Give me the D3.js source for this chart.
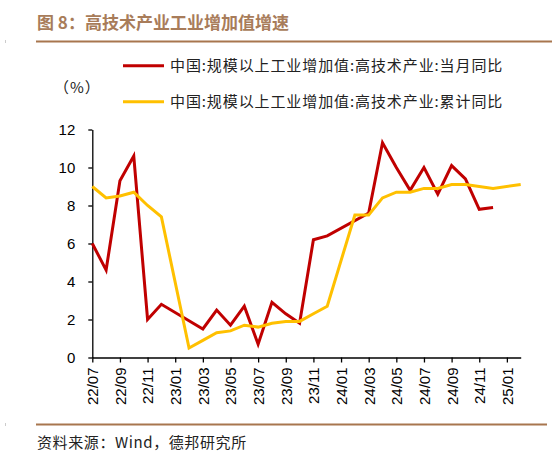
<!DOCTYPE html>
<html>
<head>
<meta charset="utf-8">
<script src="https://cdn.jsdelivr.net/npm/d3@7"></script>
<style>
  html, body { margin: 0; padding: 0; background: #fff; }
  svg { display: block; }
</style>
</head>
<body>
<div id="chart"></div>
<script>
// months on the x axis, 22/07 .. 25/02
const months = [
  "22/07", "22/08", "22/09", "22/10", "22/11", "22/12",
  "23/01", "23/02", "23/03", "23/04", "23/05", "23/06",
  "23/07", "23/08", "23/09", "23/10", "23/11", "23/12",
  "24/01", "24/02", "24/03", "24/04", "24/05", "24/06",
  "24/07", "24/08", "24/09", "24/10", "24/11", "24/12",
  "25/01", "25/02"
];

// 当月同比 (null = no release that month)
const monthlyYoY = [
  6.0, 4.6, 9.3, 10.6, 2.0, 2.8,
  null, null, 1.5, 2.5, 1.7, 2.7,
  0.7, 2.9, 2.3, 1.8, 6.2, 6.4,
  null, null, 7.6, 11.3, 10.0, 8.8,
  10.0, 8.6, 10.1, 9.4, 7.8, 7.9,
  null, null
];

// 累计同比
const cumulativeYoY = [
  9.0, 8.4, 8.5, 8.7, 8.0, 7.4,
  null, 0.5, 0.9, 1.3, 1.4, 1.7,
  1.6, 1.8, 1.9, 1.9, 2.3, 2.7,
  null, 7.5, 7.5, 8.4, 8.7, 8.7,
  8.9, 8.9, 9.1, 9.1, 9.0, 8.9,
  null, 9.1
];

const yTicks = [0, 2, 4, 6, 8, 10, 12];
const xTickLabels = months.filter((m, i) => i % 2 === 0);

const seriesNames = [
  "中国:规模以上工业增加值:高技术产业:当月同比",
  "中国:规模以上工业增加值:高技术产业:累计同比"
];
const seriesColors = ["#c00000", "#ffc000"];

const width = 552;
const height = 465;
const brown = "#a8764e";

const svg = d3.select("#chart").append("svg")
  .attr("width", width)
  .attr("height", height);

// title + rules
svg.append("text")
  .attr("x", 37)
  .attr("y", 29)
  .attr("font-family", "'Noto Sans CJK SC', sans-serif")
  .attr("font-size", 17)
  .attr("font-weight", "bold")
  .attr("fill", "#a87c5a")
  .text("图 8：高技术产业工业增加值增速");

svg.append("line")
  .attr("x1", 36).attr("x2", width)
  .attr("y1", 41.5).attr("y2", 41.5)
  .attr("stroke", brown).attr("stroke-width", 2);

svg.append("line")
  .attr("x1", 36).attr("x2", 547)
  .attr("y1", 424.5).attr("y2", 424.5)
  .attr("stroke", brown).attr("stroke-width", 2);

// little marks at the far left
[41.5, 424.5].forEach((y) => {
  svg.append("rect")
    .attr("x", 5).attr("y", y - 1.5)
    .attr("width", 1).attr("height", 3)
    .attr("fill", "#ccc");
});

svg.append("text")
  .attr("x", 37)
  .attr("y", 448)
  .attr("font-family", "'Noto Sans CJK SC', sans-serif")
  .attr("font-size", 15)
  .attr("letter-spacing", 0.6)
  .attr("fill", "#222")
  .text("资料来源：Wind，德邦研究所");

// legend
const legend = svg.append("g");
seriesNames.forEach((name, i) => {
  const y = 65.7 + i * 36;
  legend.append("line")
    .attr("x1", 123).attr("x2", 164)
    .attr("y1", y).attr("y2", y)
    .attr("stroke", seriesColors[i])
    .attr("stroke-width", 3);
  legend.append("text")
    .attr("x", 170)
    .attr("y", y)
    .attr("dy", "0.36em")
    .attr("font-family", "'Noto Sans CJK SC', sans-serif")
    .attr("font-size", 15)
    .attr("letter-spacing", 0.9)
    .attr("fill", "#222")
    .text(name);
});

svg.append("text")
  .attr("x", 54)
  .attr("y", 87.5)
  .attr("dy", "0.36em")
  .attr("font-family", "'Noto Sans CJK SC', sans-serif")
  .attr("font-size", 15)
  .attr("letter-spacing", 1)
  .attr("fill", "#222")
  .text("（%）");

// scales
const x = d3.scalePoint()
  .domain(months)
  .range([92.3, 520.7]);

const y = d3.scaleLinear()
  .domain([0, 12])
  .range([357.5, 129.5]);

// axes
const xAxis = svg.append("g")
  .attr("transform", `translate(0,${y(0)})`)
  .call(d3.axisBottom(x)
    .tickValues(xTickLabels)
    .tickSizeInner(5)
    .tickSizeOuter(0)
    .tickPadding(0));

xAxis.select(".domain").attr("stroke", "#000").attr("stroke-width", 1.3);
xAxis.selectAll(".tick line").attr("stroke", "#000").attr("stroke-width", 1.3);
xAxis.selectAll(".tick text")
  .attr("font-family", "'Liberation Sans', Arial, sans-serif")
  .attr("font-size", 15)
  .attr("fill", "#000")
  .attr("text-anchor", "end")
  .attr("transform", "rotate(-90)")
  .attr("x", -10)
  .attr("y", 0)
  .attr("dy", "0.36em");

const yAxis = svg.append("g")
  .attr("transform", `translate(${x(months[0])},0)`)
  .call(d3.axisLeft(y)
    .tickValues(yTicks)
    .tickSizeInner(4)
    .tickSizeOuter(0)
    .tickPadding(13));

yAxis.select(".domain").attr("stroke", "#000").attr("stroke-width", 1.3);
yAxis.selectAll(".tick line").attr("stroke", "#000").attr("stroke-width", 1.3);
yAxis.selectAll(".tick text")
  .attr("font-family", "'Liberation Sans', Arial, sans-serif")
  .attr("font-size", 15)
  .attr("fill", "#000");

// lines: gaps are joined straight across, like the original
const line = d3.line()
  .x((d) => x(d.month))
  .y((d) => y(d.value));

[monthlyYoY, cumulativeYoY].forEach((values, i) => {
  const pts = months
    .map((m, j) => ({ month: m, value: values[j] }))
    .filter((d) => d.value !== null);
  svg.append("path")
    .datum(pts)
    .attr("fill", "none")
    .attr("stroke", seriesColors[i])
    .attr("stroke-width", 3)
    .attr("stroke-linejoin", "miter")
    .attr("d", line);
});
</script>
</body>
</html>
